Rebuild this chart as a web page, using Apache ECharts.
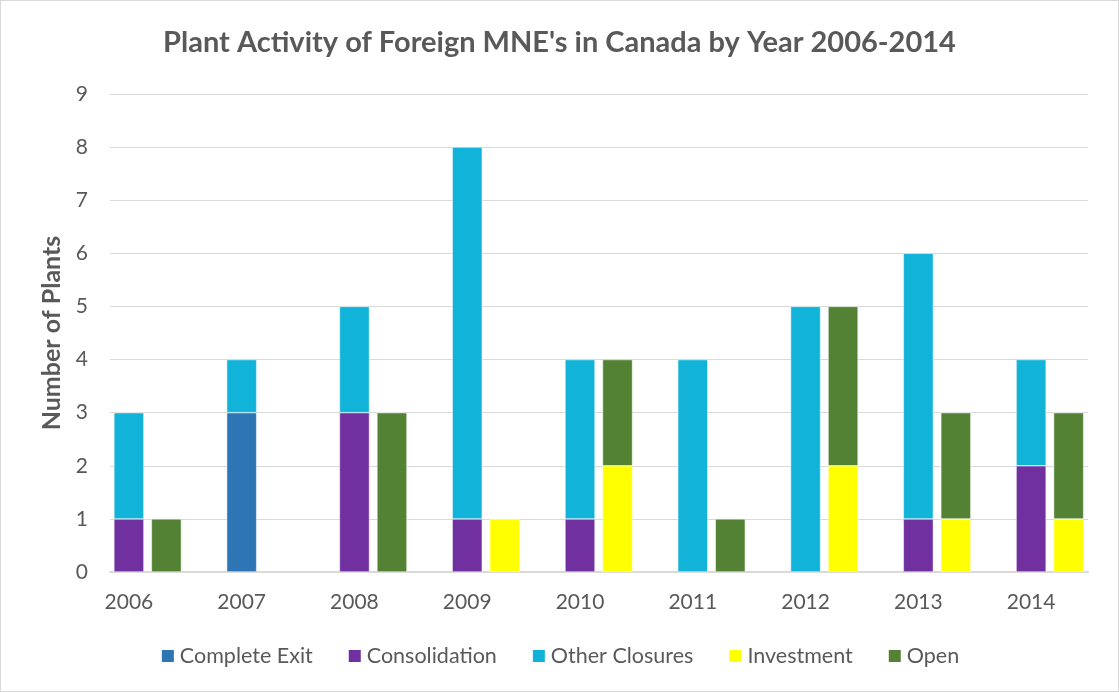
<!DOCTYPE html>
<html>
<head>
<meta charset="utf-8">
<script src="https://cdn.jsdelivr.net/npm/echarts@6/dist/echarts.min.js"></script>
<style>
  html, body { margin: 0; padding: 0; background: #fff; }
  #chart { width: 1119px; height: 692px; box-sizing: border-box; border: 1px solid #d9d9d9; }
</style>
</head>
<body>
<div id="chart"></div>
<script>
const years = ['2006', '2007', '2008', '2009', '2010', '2011', '2012', '2013', '2014']
const yTicks = [0, 9, 1]   // min, max, interval

// closures stack
const completeExit = [0, 3, 0, 0, 0, 0, 0, 0, 0]
const consolidation = [1, 0, 3, 1, 1, 0, 0, 1, 2]
const otherClosures = [2, 1, 2, 7, 3, 4, 5, 5, 2]
// openings stack
const investment = [0, 0, 0, 1, 2, 0, 2, 1, 1]
const openNew = [1, 0, 3, 0, 2, 1, 3, 2, 2]

const textColor = '#595959'
const font = 'Lato'

const chart = echarts.init(document.getElementById('chart'))

function bar(name, data, stack, color) {
    return {
        name: name,
        type: 'bar',
        stack: stack,
        xAxisIndex: 1,
        yAxisIndex: 1,
        barWidth: 30,
        barGap: '25%',
        data: data.map(v => v === 0 ? '-' : v),
        itemStyle: { color: color, borderColor: '#fff', borderWidth: 0.5 }
    }
}

const option = {
    animation: false,
    textStyle: { fontFamily: font },
    title: {
        text: "Plant Activity of Foreign MNE's in Canada by Year 2006-2014",
        left: 'center',
        top: 22,
        textStyle: { fontFamily: font, fontSize: 29, fontWeight: 'bold', color: textColor }
    },
    legend: {
        data: ['Complete Exit', 'Consolidation', 'Other Closures', 'Investment', 'Open'],
        top: 639,
        left: 'center',
        itemWidth: 14,
        itemHeight: 14,
        itemGap: 34,
        icon: 'rect',
        textStyle: { fontFamily: font, fontSize: 21.5, color: textColor }
    },
    grid: [
        { left: 109, width: 978, top: 93, height: 478, outerBoundsMode: 'none' },
        { left: 109, width: 1015, top: 93, height: 478, outerBoundsMode: 'none' }
    ],
    xAxis: [
        {
            type: 'category',
            gridIndex: 0,
            data: years,
            axisLine: { lineStyle: { color: '#d9d9d9', width: 2 } },
            axisTick: { show: false },
            axisLabel: { show: false }
        },
        {
            type: 'category',
            gridIndex: 1,
            data: years,
            axisLine: { show: false },
            axisTick: { show: false },
            axisLabel: {
                fontFamily: font, fontSize: 21, color: textColor,
                margin: 20, padding: [0, 75, 0, 0]
            }
        }
    ],
    yAxis: [
        {
            type: 'value',
            gridIndex: 0,
            min: yTicks[0],
            max: yTicks[1],
            interval: yTicks[2],
            name: 'Number of Plants',
            nameLocation: 'middle',
            nameGap: 46,
            nameTextStyle: { fontFamily: font, fontSize: 25, fontWeight: 'bold', color: textColor },
            axisLine: { show: false },
            axisTick: { show: false },
            axisLabel: { fontFamily: font, fontSize: 21, color: textColor, margin: 22 },
            splitLine: { lineStyle: { color: '#d9d9d9', width: 1 } }
        },
        {
            type: 'value',
            gridIndex: 1,
            min: yTicks[0],
            max: yTicks[1],
            interval: yTicks[2],
            show: false,
            splitLine: { show: false }
        }
    ],
    series: [
        bar('Complete Exit', completeExit, 'close', '#2E75B6'),
        bar('Consolidation', consolidation, 'close', '#7030A0'),
        bar('Other Closures', otherClosures, 'close', '#12B3D9'),
        bar('Investment', investment, 'open', '#FFFF00'),
        bar('Open', openNew, 'open', '#548235'),
        // empty third slot in each year, keeps the pair left of centre
        bar('pad', years.map(() => 0), 'pad', 'rgba(0,0,0,0)')
    ]
}
chart.setOption(option)
</script>
</body>
</html>
